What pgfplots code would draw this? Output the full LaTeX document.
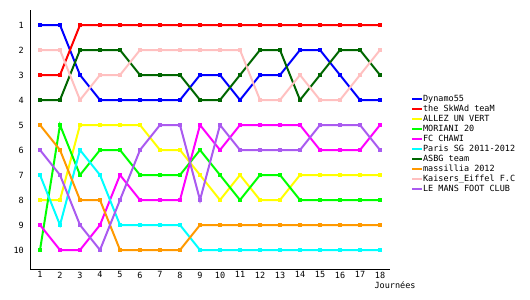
\documentclass[border=0pt]{standalone}
\usepackage{fontspec}
\setmainfont{DejaVu Sans Mono}
\usepackage{pgfplots}
\pgfplotsset{compat=1.18}
\definecolor{cDyn}{RGB}{0,0,255}
\definecolor{cSkw}{RGB}{255,0,0}
\definecolor{cAll}{RGB}{255,255,0}
\definecolor{cMor}{RGB}{0,255,0}
\definecolor{cCha}{RGB}{255,0,255}
\definecolor{cPsg}{RGB}{0,255,255}
\definecolor{cAsb}{RGB}{0,102,0}
\definecolor{cMas}{RGB}{255,153,0}
\definecolor{cKai}{RGB}{255,192,192}
\definecolor{cLem}{RGB}{170,90,240}
\begin{document}
\begin{tikzpicture}
\useasboundingbox (0,0) rectangle (530bp,300bp);
\begin{axis}[
  at={(30bp,31bp)}, anchor=south west,
  scale only axis, width=360bp, height=259bp,
  xmin=0.5, xmax=18.5, ymin=0.4, ymax=10.76,
  y dir=reverse,
  axis x line*=bottom, axis y line*=left,
  axis line style={-, line width=1bp, black},
  xtick={1,...,18}, ytick={1,...,10},
  major tick length=0pt,
  /pgf/number format/assume math mode=true,
  tick label style={font=\fontsize{8.5bp}{9bp}\selectfont, inner sep=0pt},
  xticklabel style={anchor=north, yshift=-2.5bp},
  yticklabel style={anchor=east, xshift=-6bp},
  xlabel={Journées},
  xlabel style={at={(axis description cs:1.014,-0.062)}, anchor=center, font=\fontsize{8.5bp}{9bp}\selectfont, inner sep=0pt},
  every axis plot/.append style={line width=2bp, mark=square*, mark size=1.2bp},
  legend style={draw=none, fill=none, at={(axis description cs:1.058,0.672)}, anchor=north west,
    inner sep=0pt, font=\fontsize{8.5bp}{9bp}\selectfont,
    nodes={inner sep=0pt, text height=6.5bp, text depth=3.5bp},
    /tikz/every even column/.append style={column sep=3bp}},
  legend cell align=left,
  legend image code/.code={\draw[#1, mark=none] (0bp,1bp) -- (10bp,1bp);},
  clip=false,
]
\addplot[cDyn] coordinates {(1,1)(2,1)(3,3)(4,4)(5,4)(6,4)(7,4)(8,4)(9,3)(10,3)(11,4)(12,3)(13,3)(14,2)(15,2)(16,3)(17,4)(18,4)};
\addlegendentry{Dynamo55}
\addplot[cSkw] coordinates {(1,3)(2,3)(3,1)(4,1)(5,1)(6,1)(7,1)(8,1)(9,1)(10,1)(11,1)(12,1)(13,1)(14,1)(15,1)(16,1)(17,1)(18,1)};
\addlegendentry{the SkWAd teaM}
\addplot[cAll] coordinates {(1,8)(2,8)(3,5)(4,5)(5,5)(6,5)(7,6)(8,6)(9,7)(10,8)(11,7)(12,8)(13,8)(14,7)(15,7)(16,7)(17,7)(18,7)};
\addlegendentry{ALLEZ UN VERT}
\addplot[cMor] coordinates {(1,10)(2,5)(3,7)(4,6)(5,6)(6,7)(7,7)(8,7)(9,6)(10,7)(11,8)(12,7)(13,7)(14,8)(15,8)(16,8)(17,8)(18,8)};
\addlegendentry{MORIANI 20}
\addplot[cCha] coordinates {(1,9)(2,10)(3,10)(4,9)(5,7)(6,8)(7,8)(8,8)(9,5)(10,6)(11,5)(12,5)(13,5)(14,5)(15,6)(16,6)(17,6)(18,5)};
\addlegendentry{FC CHAWI}
\addplot[cPsg] coordinates {(1,7)(2,9)(3,6)(4,7)(5,9)(6,9)(7,9)(8,9)(9,10)(10,10)(11,10)(12,10)(13,10)(14,10)(15,10)(16,10)(17,10)(18,10)};
\addlegendentry{Paris SG 2011-2012}
\addplot[cAsb] coordinates {(1,4)(2,4)(3,2)(4,2)(5,2)(6,3)(7,3)(8,3)(9,4)(10,4)(11,3)(12,2)(13,2)(14,4)(15,3)(16,2)(17,2)(18,3)};
\addlegendentry{ASBG team}
\addplot[cMas] coordinates {(1,5)(2,6)(3,8)(4,8)(5,10)(6,10)(7,10)(8,10)(9,9)(10,9)(11,9)(12,9)(13,9)(14,9)(15,9)(16,9)(17,9)(18,9)};
\addlegendentry{massillia 2012}
\addplot[cKai] coordinates {(1,2)(2,2)(3,4)(4,3)(5,3)(6,2)(7,2)(8,2)(9,2)(10,2)(11,2)(12,4)(13,4)(14,3)(15,4)(16,4)(17,3)(18,2)};
\addlegendentry{Kaisers\_Eiffel F.C}
\addplot[cLem] coordinates {(1,6)(2,7)(3,9)(4,10)(5,8)(6,6)(7,5)(8,5)(9,8)(10,5)(11,6)(12,6)(13,6)(14,6)(15,5)(16,5)(17,5)(18,6)};
\addlegendentry{LE MANS FOOT CLUB}
\end{axis}
\end{tikzpicture}
\end{document}
